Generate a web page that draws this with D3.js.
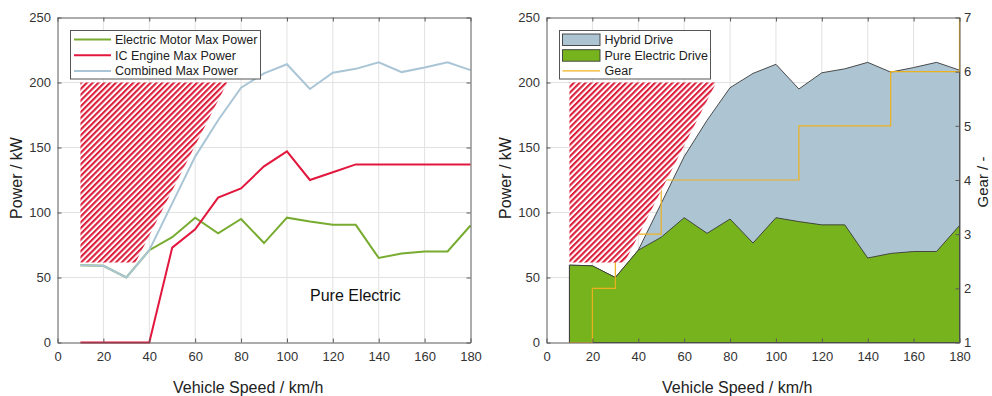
<!DOCTYPE html>
<html><head><meta charset="utf-8">
<script src="https://cdn.jsdelivr.net/npm/d3@7"></script>
<style>
body{margin:0;background:#fff}
svg{display:block;font-family:"Liberation Sans",Arial,Helvetica,sans-serif}
</style>
</head><body>
<svg id="c" width="992" height="396"></svg>
<script>
// ---- data ----
const speeds = [10,20,30,40,50,60,70,80,90,100,110,120,130,140,150,160,170,180];
const motorPower = [59.5,59,50,71,81,96,84,95,76.5,96,93,90.5,90.5,65,68.5,70,70,90];
const enginePower = [0,0,0,0,73,87,111.5,118.5,135.5,147,125,131,137,137,137,137,137,137];
const combinedPower = [59.5,59,50,71,107,143,171,196,207,214,195,207.5,210.5,215.5,208,211.5,215.5,209.5];
const gears = [1,2,3,3,4,4,4,4,4,4,5,5,5,5,6,6,6,7];
const hatchSpeed = [10,34,74,10];
const hatchPower = [61.5,61.5,200,200];
const xTicks = [0,20,40,60,80,100,120,140,160,180];
const yTicks = [0,50,100,150,200,250];
const gearTicks = [1,2,3,4,5,6,7];
const leftLegend = ["Electric Motor Max Power","IC Engine Max Power","Combined Max Power"];
const rightLegend = ["Hybrid Drive","Pure Electric Drive","Gear"];
const xLabel = "Vehicle Speed / km/h";
const yLabel = "Power / kW";
const gearLabel = "Gear / -";
const annotation = "Pure Electric";

// ---- styles ----
const C = {
  green:"#77ac30", red:"#e2173d", blue:"#aac5d5",
  hybridFill:"#adc5d2", electricFill:"#77b31d", gear:"#edb120",
  axis:"#5a5a5a", grid:"#e2e2e2", text:"#333", hatch:"#dc1f3c"
};

const svg = d3.select("#c");
const defs = svg.append("defs");
const P = 4.1;
const pat = defs.append("pattern").attr("id","hatch")
  .attr("patternUnits","userSpaceOnUse").attr("width",P).attr("height",P)
  .attr("patternTransform","rotate(45)");
pat.append("rect").attr("width",P).attr("height",P).attr("fill","#fff");
pat.append("rect").attr("width",2.1).attr("height",P).attr("fill",C.hatch);

const yScale = d3.scaleLinear().domain([0,250]).range([342.5,17.5]);
const xLeft = d3.scaleLinear().domain([0,180]).range([57.5,470.5]);
const xRight = d3.scaleLinear().domain([0,180]).range([546.5,959.5]);
const gScale = d3.scaleLinear().domain([1,7]).range([342.5,17.5]);

const idx = d3.range(speeds.length);

function grid(g, x){
  g.append("g").selectAll("line").data(xTicks.slice(1,-1)).join("line")
    .attr("x1",d=>x(d)).attr("x2",d=>x(d)).attr("y1",yScale(0)).attr("y2",yScale(250))
    .attr("stroke",C.grid).attr("stroke-width",1);
  g.append("g").selectAll("line").data(yTicks.slice(1,-1)).join("line")
    .attr("y1",d=>yScale(d)).attr("y2",d=>yScale(d)).attr("x1",x(0)).attr("x2",x(180))
    .attr("stroke",C.grid).attr("stroke-width",1);
}

function hatch(g, x){
  const pts = hatchSpeed.map((s,i)=>[x(s), yScale(hatchPower[i])]);
  g.append("path").attr("d", d3.line()(pts)+"Z").attr("fill","url(#hatch)");
}

function styleAxis(a){
  a.select(".domain").attr("stroke",C.axis);
  a.selectAll(".tick line").attr("stroke",C.axis);
  a.selectAll("text").attr("fill",C.text).attr("font-size",13).attr("font-family",null);
}

function axes(g, x, withGearAxis){
  const b = g.append("g").attr("transform",`translate(0,${yScale(0)})`)
    .call(d3.axisBottom(x).tickValues(xTicks).tickSizeInner(-4).tickSizeOuter(0).tickPadding(9));
  styleAxis(b);
  const t = g.append("g").attr("transform",`translate(0,${yScale(250)})`)
    .call(d3.axisTop(x).tickValues(xTicks).tickSizeInner(-4).tickSizeOuter(0).tickFormat(""));
  styleAxis(t);
  const l = g.append("g").attr("transform",`translate(${x(0)},0)`)
    .call(d3.axisLeft(yScale).tickValues(yTicks).tickSizeInner(-4).tickSizeOuter(0).tickPadding(6.5));
  styleAxis(l);
  if(withGearAxis){
    const r = g.append("g").attr("transform",`translate(${x(180)},0)`)
      .call(d3.axisRight(gScale).tickValues(gearTicks).tickFormat(d3.format("d")).tickSizeInner(-4).tickSizeOuter(0).tickPadding(4.5));
    styleAxis(r);
  } else {
    const r = g.append("g").attr("transform",`translate(${x(180)},0)`)
      .call(d3.axisRight(yScale).tickValues(yTicks).tickSizeInner(-4).tickSizeOuter(0).tickFormat(""));
    styleAxis(r);
  }
  g.append("text").attr("x",x(0)+115.5).attr("y",393).attr("font-size",16).attr("fill","#222").text(xLabel);
}

// ---------- LEFT CHART ----------
const L = svg.append("g");
grid(L, xLeft);
hatch(L, xLeft);
const lineL = vals => d3.line().x(i=>xLeft(speeds[i])).y(i=>yScale(vals[i]))(idx);
L.append("path").attr("d",lineL(motorPower)).attr("fill","none").attr("stroke",C.green).attr("stroke-width",2);
L.append("path").attr("d",lineL(enginePower)).attr("fill","none").attr("stroke",C.red).attr("stroke-width",2);
L.append("path").attr("d",lineL(combinedPower)).attr("fill","none").attr("stroke",C.blue).attr("stroke-width",2);
axes(L, xLeft, false);
L.append("text").attr("x",310).attr("y",300.7).attr("font-size",16).attr("fill","#111").text(annotation);
L.append("text").attr("transform","translate(21.5,178) rotate(-90)").attr("text-anchor","middle")
  .attr("font-size",16).attr("fill","#222").text(yLabel);

// left legend
const lgL = L.append("g");
lgL.append("rect").attr("x",70.5).attr("y",30.5).attr("width",190).attr("height",48.5)
  .attr("fill","#fff").attr("stroke","#555").attr("stroke-width",1);
const lcols = [C.green,C.red,C.blue];
leftLegend.forEach((t,i)=>{
  const yy = 39.5 + i*15.7;
  lgL.append("line").attr("x1",74).attr("x2",111).attr("y1",yy).attr("y2",yy).attr("stroke",lcols[i]).attr("stroke-width",2);
  lgL.append("text").attr("x",115).attr("y",yy).attr("dy","0.35em").attr("font-size",12.5).attr("fill","#222").text(t);
});

// ---------- RIGHT CHART ----------
const R = svg.append("g");
grid(R, xRight);
const areaR = vals => d3.area().x(i=>xRight(speeds[i])).y0(yScale(0)).y1(i=>yScale(vals[i]))(idx);
R.append("path").attr("d",areaR(combinedPower)).attr("fill",C.hybridFill).attr("stroke","#3a3a3a").attr("stroke-width",0.9);
R.append("path").attr("d",areaR(motorPower)).attr("fill",C.electricFill).attr("stroke","#3a3a3a").attr("stroke-width",0.9);
R.append("path").attr("d",d3.line().curve(d3.curveStepAfter).x(i=>xRight(speeds[i])).y(i=>gScale(gears[i]))(idx))
  .attr("fill","none").attr("stroke",C.gear).attr("stroke-width",1.2);
hatch(R, xRight);
axes(R, xRight, true);
R.append("text").attr("transform","translate(510.5,178) rotate(-90)").attr("text-anchor","middle")
  .attr("font-size",16).attr("fill","#222").text(yLabel);
R.append("text").attr("transform","translate(988,182) rotate(-90)").attr("text-anchor","middle")
  .attr("font-size",15).attr("fill","#222").text(gearLabel);

// right legend
const lgR = R.append("g");
lgR.append("rect").attr("x",559.5).attr("y",30.5).attr("width",151).attr("height",48.5)
  .attr("fill","#fff").attr("stroke","#555").attr("stroke-width",1);
const rfills = [C.hybridFill, C.electricFill];
rightLegend.forEach((t,i)=>{
  const yy = 39.5 + i*15.7;
  if(i<2){
    lgR.append("rect").attr("x",562.5).attr("y",yy-5.5).attr("width",37.5).attr("height",11.5)
      .attr("fill",rfills[i]).attr("stroke","#3a3a3a").attr("stroke-width",0.9);
  } else {
    lgR.append("line").attr("x1",562.5).attr("x2",600).attr("y1",yy).attr("y2",yy).attr("stroke",C.gear).attr("stroke-width",1.2);
  }
  lgR.append("text").attr("x",604.5).attr("y",yy).attr("dy","0.35em").attr("font-size",12.5).attr("fill","#222").text(t);
});
</script>
</body></html>
